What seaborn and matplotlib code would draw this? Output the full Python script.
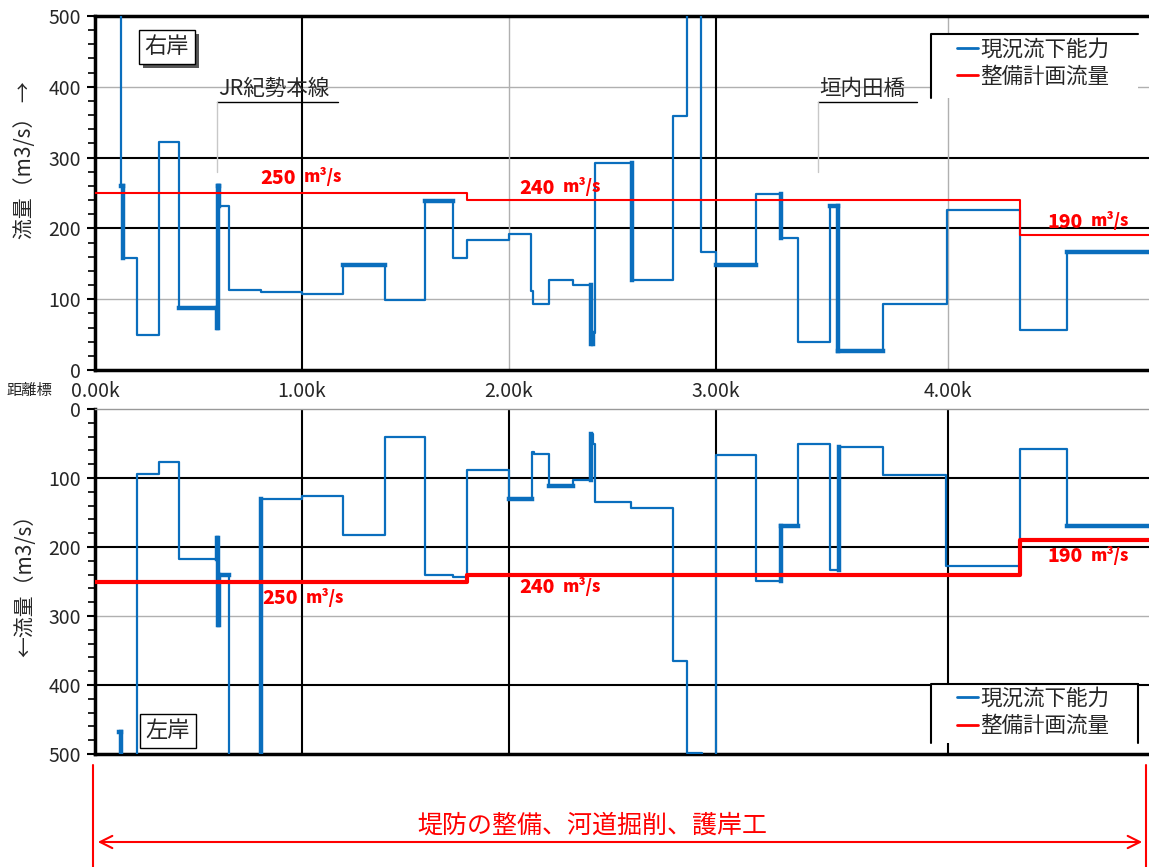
import matplotlib
matplotlib.use("Agg")
import matplotlib.pyplot as plt
import matplotlib.patheffects as pe
from matplotlib.lines import Line2D
from matplotlib.patches import Rectangle
from matplotlib.ticker import MultipleLocator
import pandas as pd
import seaborn as sns

# distance axis (k) - tick positions as drawn on the chart
km_ticks = [0, 1, 2, 3, 4.12]
km_labels = ['0.00k', '1.00k', '2.00k', '3.00k', '4.00k']

# right bank (右岸) current capacity, step starts
right_x = [0.120, 0.126, 0.135, 0.203, 0.309, 0.406, 0.589, 0.592, 0.599, 0.647,
           0.802, 1.000, 1.198, 1.401, 1.594, 1.729, 1.797, 2.000, 2.106, 2.116,
           2.193, 2.309, 2.396, 2.405, 2.415, 2.594, 2.792, 2.860, 2.928, 3.000,
           3.193, 3.314, 3.396, 3.551, 3.589, 3.807, 4.116, 4.469, 4.696, 5.1]
right_q = [600, 260, 158, 50, 322, 88, 60, 260, 231, 113,
           110, 107, 148, 99, 238, 158, 183, 192, 112, 93,
           127, 120, 37, 52, 293, 127, 359, 600, 167, 148,
           248, 186, 40, 232, 27, 93, 226, 56, 167, 167]
right_thick = [1, 5, 7, 12, 14, 29, 33, 34, 38]   # heavy horizontal runs
right_thick_v = [2, 6, 7, 8, 22, 23, 25, 31, 34]  # heavy vertical steps

# left bank (左岸)
left_x = [0.118, 0.124, 0.203, 0.309, 0.406, 0.589, 0.594, 0.599, 0.647, 0.802,
          1.000, 1.198, 1.401, 1.594, 1.729, 1.797, 2.000, 2.111, 2.121, 2.193,
          2.309, 2.396, 2.406, 2.415, 2.589, 2.792, 2.860, 2.932, 3.000, 3.193,
          3.314, 3.396, 3.551, 3.594, 3.807, 4.111, 4.469, 4.696, 5.1]
left_q = [468, 600, 94, 77, 217, 187, 313, 241, 600, 130,
          126, 182, 40, 240, 243, 89, 131, 62, 65, 111,
          103, 36, 50, 135, 144, 365, 499, 600, 66, 249,
          169, 51, 234, 55, 95, 228, 58, 169, 169]
left_thick = [0, 7, 16, 19, 30, 37]
left_thick_v = [1, 5, 6, 7, 9, 21, 30, 33]

# plan discharge (整備計画流量)
plan_x = [0, 1.797, 4.469, 5.1]
plan_right = [250, 240, 190, 190]
plan_left = [250, 240, 190, 190]

# red value labels: (x, y, number)
right_labels = [(0.80, 271, '250'), (2.05, 257, '240'), (4.60, 209, '190')]
left_labels = [(0.81, 275, '250'), (2.05, 259, '240'), (4.60, 214, '190')]

BLUE = '#0a6ebd'
RED = '#ff0000'

sns.set_theme(style="white")
plt.rcParams['font.family'] = ['Noto Sans CJK JP', 'DejaVu Sans']

fig = plt.figure(figsize=(11.49, 8.67), dpi=100)
ax1 = fig.add_axes([95 / 1149, 1 - 370 / 867, 1 - 95 / 1149, 354 / 867])
ax2 = fig.add_axes([95 / 1149, 1 - 754 / 867, 1 - 95 / 1149, 345 / 867])


def draw_bank(ax, xs, qs, thick, thick_v, px, pq, red_lw):
    df = pd.DataFrame({'x': xs, 'q': qs})
    sns.lineplot(data=df, x='x', y='q', ax=ax, color=BLUE, lw=1.6,
                 drawstyle='steps-post', sort=False, estimator=None, zorder=4)
    for i in thick:
        ax.plot([xs[i], xs[i + 1]], [qs[i], qs[i]], color=BLUE, lw=3.2,
                solid_capstyle='projecting', zorder=4)
    for i in thick_v:
        ax.plot([xs[i], xs[i]], [qs[i - 1], qs[i]], color=BLUE, lw=3.2,
                solid_capstyle='projecting', zorder=4)
    pf = pd.DataFrame({'x': px, 'q': pq})
    sns.lineplot(data=pf, x='x', y='q', ax=ax, color=RED, lw=red_lw,
                 drawstyle='steps-post', sort=False, estimator=None, zorder=5)


draw_bank(ax1, right_x, right_q, right_thick, right_thick_v, plan_x, plan_right, 1.5)
draw_bank(ax2, left_x, left_q, left_thick, left_thick_v, plan_x, plan_left, 3.0)

for ax in (ax1, ax2):
    ax.set_xlim(0, 5.092)
    ax.set_xlabel('')
    ax.set_ylabel('')
    ax.set_xticks(km_ticks)
    ax.yaxis.set_major_locator(MultipleLocator(100))
    ax.yaxis.set_minor_locator(MultipleLocator(20))
    ax.tick_params(axis='y', which='both', left=True, direction='out',
                   color='black', labelsize=14, pad=4)
    ax.tick_params(axis='y', which='major', length=6, width=1.5)
    ax.tick_params(axis='y', which='minor', length=5, width=1.2)
    ax.tick_params(axis='x', length=0)
    ax.spines['right'].set_visible(False)
    ax.spines['left'].set_color('black')
    ax.spines['left'].set_linewidth(2.5)
    ax.spines['bottom'].set_color('black')
    ax.spines['bottom'].set_linewidth(2.5)

# top panel
ax1.set_ylim(0, 500)
ax1.set_xticklabels(km_labels, fontsize=14)
ax1.tick_params(axis='x', pad=8)
ax1.spines['top'].set_color('black')
ax1.spines['top'].set_linewidth(2.5)
for v in [200, 300]:
    ax1.axhline(v, color='black', lw=1.5, zorder=1)
for v in [100, 400]:
    ax1.axhline(v, color='#b0b0b0', lw=1, zorder=1)
for v in [1, 3]:
    ax1.axvline(v, color='black', lw=1.5, zorder=1)
for v in [2, 4.12]:
    ax1.axvline(v, color='#b0b0b0', lw=1, zorder=1)

# bottom panel (inverted)
ax2.set_ylim(500, 0)
ax2.set_xticklabels([])
ax2.spines['top'].set_color('#999999')
ax2.spines['top'].set_linewidth(1)
for v in [100, 200, 400]:
    ax2.axhline(v, color='black', lw=1.5, zorder=1)
ax2.axhline(300, color='#b0b0b0', lw=1, zorder=1)
for v in km_ticks[1:]:
    ax2.axvline(v, color='black', lw=1.5, zorder=1)

# red value labels
for ax, labels in ((ax1, right_labels), (ax2, left_labels)):
    for x, y, n in labels:
        ax.text(x, y, n, color=RED, fontsize=14, fontweight='heavy',
                va='center', ha='left', zorder=6)
        ax.text(x + 0.21, y + (2 if ax is ax1 else -2), 'm³/s', color=RED,
                fontsize=12, fontweight='heavy', va='center', ha='left', zorder=6)

# bank labels
t = ax1.text(0.047, 0.913, '右岸', transform=ax1.transAxes, fontsize=16,
             va='center', ha='left', zorder=7,
             bbox=dict(boxstyle='square,pad=0.25', fc='white', ec='black', lw=1))
t.get_bbox_patch().set_path_effects(
    [pe.withSimplePatchShadow(offset=(3, -3), shadow_rgbFace='#444444', alpha=0.9)])
ax2.text(0.048, 0.067, '左岸', transform=ax2.transAxes, fontsize=16,
         va='center', ha='left', zorder=7,
         bbox=dict(boxstyle='square,pad=0.25', fc='white', ec='black', lw=1))

# landmarks
for x0, x1, name in [(0.589, 1.174, 'JR紀勢本線'), (3.493, 3.971, '垣内田橋')]:
    ax1.plot([x0, x1], [378, 378], color='black', lw=1, zorder=3)
    ax1.plot([x0, x0], [378, 280], color='#c8c8c8', lw=1, zorder=3)
    ax1.text(x0 + 0.005, 382, name, fontsize=15.5, ha='left', va='bottom', zorder=3)

# legends: white panel with partial border, then the entries
handles = [Line2D([], [], color=BLUE, lw=2), Line2D([], [], color=RED, lw=2)]
names = ['現況流下能力', '整備計画流量']
for ax, (y_top, y_bot, y_anchor), right_side in (
        (ax1, (0.9492, 0.7684, 0.937), False),
        (ax2, (0.2029, 0.0319, 0.192), True)):
    ax.add_patch(Rectangle((0.7932, y_bot), 0.1964, y_top - y_bot,
                           transform=ax.transAxes, fc='white', ec='none', zorder=7))
    ax.plot([0.7932, 0.7932, 0.9896], [y_bot, y_top, y_top], transform=ax.transAxes,
            color='black', lw=1.5, zorder=7)
    if right_side:
        ax.plot([0.9896, 0.9896], [y_top, y_bot], transform=ax.transAxes,
                color='black', lw=1.5, zorder=7)
    leg = ax.legend(handles, names, loc='upper left', bbox_to_anchor=(0.8178, y_anchor),
                    fontsize=15.5, handlelength=1.0, handletextpad=0.1,
                    frameon=False, borderpad=0, labelspacing=0.25, borderaxespad=0)
    leg.set_zorder(8)

# axis titles
fig.text(25 / 1149, 1 - 160 / 867, '流量（m3/s） →', rotation=90, fontsize=15,
         ha='center', va='center')
fig.text(25 / 1149, 1 - 580 / 867, '←流量（m3/s）', rotation=90, fontsize=15,
         ha='center', va='center')
fig.text(6 / 1149, 1 - 390 / 867, '距離標', fontsize=11, ha='left', va='center')

# works extent
for xp in (93, 1146):
    fig.add_artist(Line2D([xp / 1149, xp / 1149], [1 - 765 / 867, 0],
                          color=RED, lw=1.5))
ax2.annotate('', xy=(1145 / 1149, 1 - 842 / 867), xytext=(95 / 1149, 1 - 842 / 867),
             xycoords='figure fraction', textcoords='figure fraction',
             arrowprops=dict(arrowstyle='<->', color=RED, lw=1.5,
                             mutation_scale=22))
fig.text(592 / 1149, 1 - 826 / 867, '堤防の整備、河道掘削、護岸工', color=RED,
         fontsize=18, ha='center', va='center')

fig.savefig('out.png', dpi=100)
